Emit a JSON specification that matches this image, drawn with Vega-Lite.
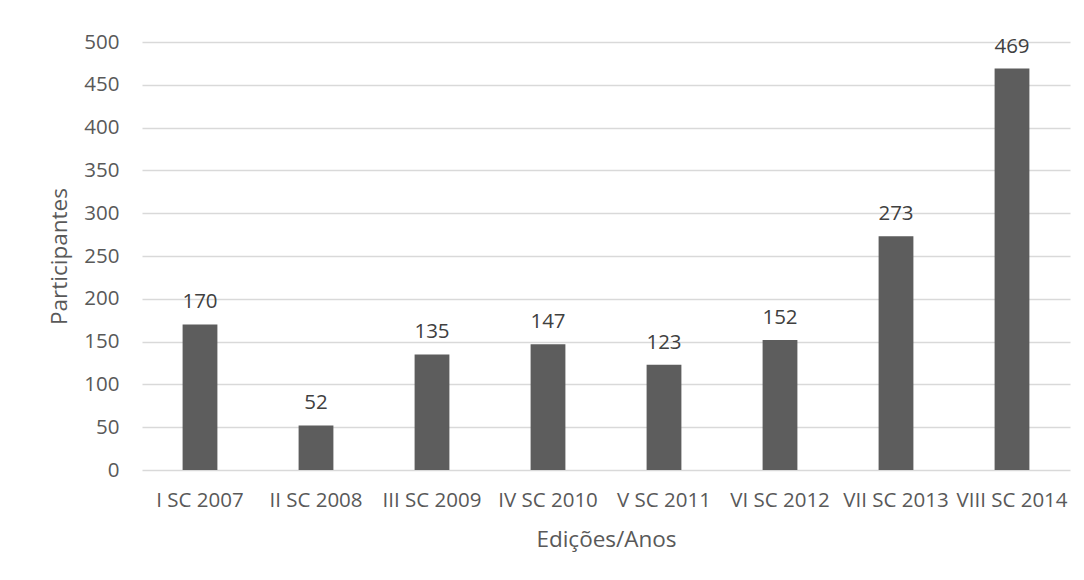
{
  "$schema": "https://vega.github.io/schema/vega-lite/v6.json",
  "width": 928,
  "height": 428,
  "autosize": "none",
  "padding": {"left": 142, "top": 42, "right": 14, "bottom": 110},
  "background": "white",
  "config": {
    "view": {"stroke": null},
    "font": "Open Sans"
  },
  "data": {
    "values": [
      {"edicao": "I SC 2007", "participantes": 170},
      {"edicao": "II SC 2008", "participantes": 52},
      {"edicao": "III SC 2009", "participantes": 135},
      {"edicao": "IV SC 2010", "participantes": 147},
      {"edicao": "V SC 2011", "participantes": 123},
      {"edicao": "VI SC 2012", "participantes": 152},
      {"edicao": "VII SC 2013", "participantes": 273},
      {"edicao": "VIII SC 2014", "participantes": 469}
    ]
  },
  "encoding": {
    "x": {
      "field": "edicao",
      "type": "nominal",
      "sort": null,
      "scale": {"paddingInner": 0.7, "paddingOuter": 0.35},
      "axis": {
        "title": "Edições/Anos",
        "labelAngle": 0,
        "labelFontSize": 20.5,
        "labelColor": "#595959",
        "labelPadding": 20,
        "labelOverlap": false,
        "ticks": false,
        "domain": false,
        "titleFontSize": 22.5,
        "titleFontWeight": "normal",
        "titleColor": "#595959",
        "titlePadding": 18
      }
    },
    "y": {
      "field": "participantes",
      "type": "quantitative",
      "scale": {"domain": [0, 500]},
      "axis": {
        "title": "Participantes",
        "values": [0, 50, 100, 150, 200, 250, 300, 350, 400, 450, 500],
        "labelFontSize": 20.5,
        "labelColor": "#595959",
        "labelPadding": 23,
        "ticks": false,
        "domain": false,
        "gridColor": "#d9d9d9",
        "gridWidth": 1.3,
        "titleFontSize": 22.5,
        "titleFontWeight": "normal",
        "titleColor": "#595959",
        "titlePadding": 12
      }
    }
  },
  "layer": [
    {"mark": {"type": "bar", "color": "#5d5d5d"}},
    {
      "mark": {"type": "text", "baseline": "bottom", "dy": -12, "fontSize": 20.5, "color": "#404040"},
      "encoding": {"text": {"field": "participantes", "type": "quantitative"}}
    }
  ]
}
